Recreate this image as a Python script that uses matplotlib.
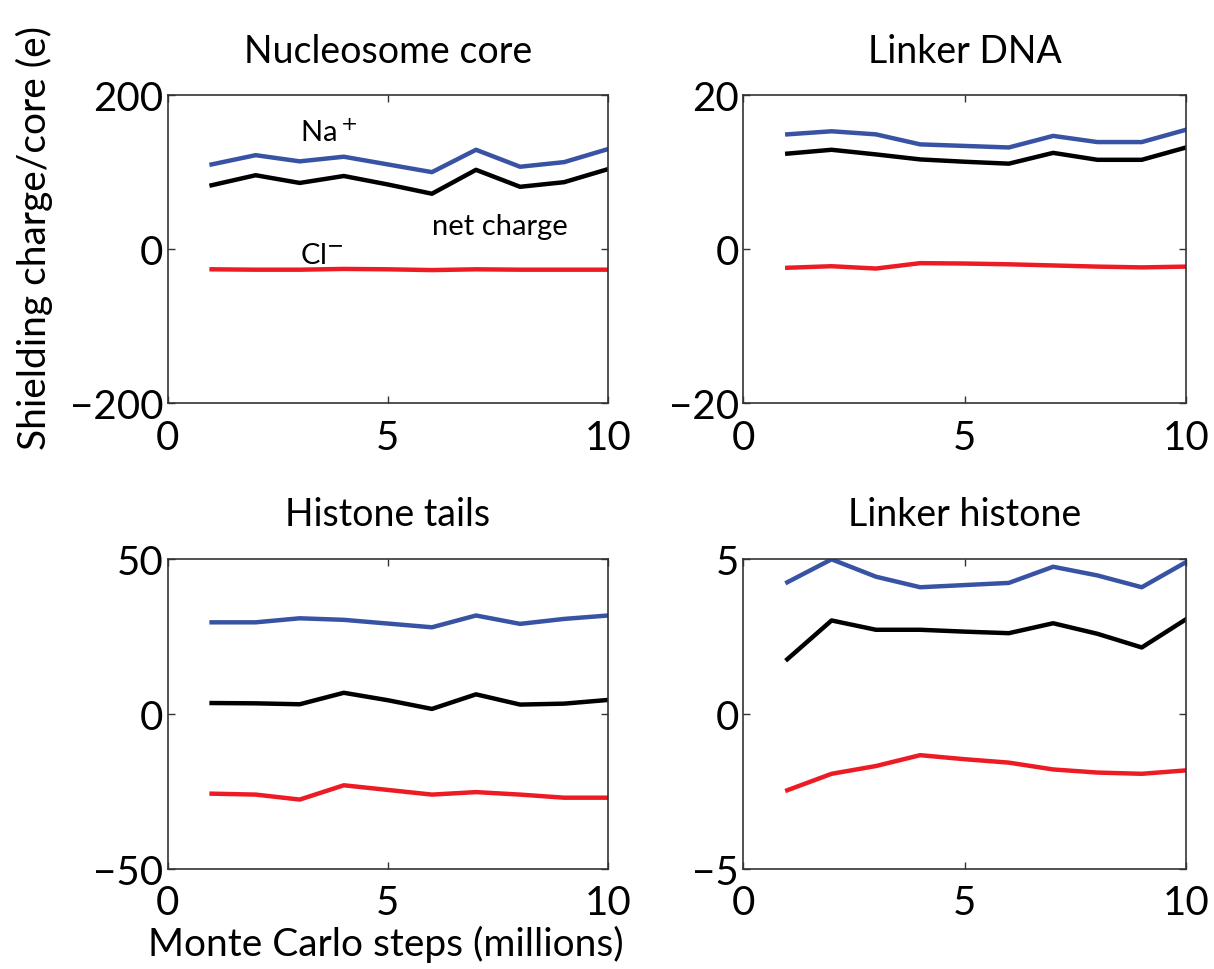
import matplotlib.pyplot as plt
import numpy as np

plt.rcParams['font.family'] = ['Lato', 'DejaVu Sans']

# ---------------- DATA ----------------
steps = [1, 2, 3, 4, 5, 6, 7, 8, 9, 10]

titles = ["Nucleosome core", "Linker DNA", "Histone tails", "Linker histone"]
limits = [200, 20, 50, 5]

na_core = [110, 122, 114, 120, 110, 100, 129, 107, 113, 130]
net_core = [83, 96, 86, 95, 84, 72, 103, 81, 87, 104]
cl_core = [-26, -26.5, -26.5, -25.5, -26, -27, -26, -26.5, -26.5, -26.5]

na_linker = [14.9, 15.3, 14.9, 13.6, 13.4, 13.2, 14.7, 13.9, 13.9, 15.5]
net_linker = [12.4, 12.9, 12.3, 11.65, 11.35, 11.1, 12.5, 11.6, 11.6, 13.2]
cl_linker = [-2.4, -2.2, -2.5, -1.8, -1.85, -1.95, -2.1, -2.25, -2.35, -2.25]

na_tails = [29.5, 29.5, 30.8, 30.3, 29.1, 27.9, 31.7, 29.0, 30.6, 31.7]
net_tails = [3.5, 3.4, 3.1, 6.8, 4.4, 1.6, 6.3, 3.0, 3.3, 4.5]
cl_tails = [-25.7, -26.0, -27.6, -23.0, -24.5, -26.0, -25.2, -26.0, -27.0, -27.0]

na_lh = [4.24, 4.98, 4.42, 4.08, 4.15, 4.22, 4.74, 4.46, 4.08, 4.89]
net_lh = [1.76, 3.01, 2.71, 2.71, 2.65, 2.60, 2.92, 2.58, 2.14, 3.05]
cl_lh = [-2.46, -1.93, -1.68, -1.33, -1.46, -1.57, -1.79, -1.89, -1.93, -1.82]

na_all = [na_core, na_linker, na_tails, na_lh]
net_all = [net_core, net_linker, net_tails, net_lh]
cl_all = [cl_core, cl_linker, cl_tails, cl_lh]

# ---------------- PLOT ----------------
fig = plt.figure(figsize=(12.14, 9.7), dpi=100)

# [left, bottom, width, height]
posicoes = [
    [0.138, 0.583, 0.363, 0.318],
    [0.612, 0.583, 0.365, 0.318],
    [0.138, 0.103, 0.363, 0.320],
    [0.612, 0.103, 0.365, 0.320],
]

azul = '#3953a4'
vermelho = '#ed1c24'

for i in range(4):
    ax = fig.add_axes(posicoes[i])
    ax.plot(steps, na_all[i], color=azul, lw=3.2)
    ax.plot(steps, net_all[i], color='black', lw=3.2)
    ax.plot(steps, cl_all[i], color=vermelho, lw=3.2)

    lim = limits[i]
    ax.set_xlim(0, 10)
    ax.set_ylim(-lim, lim)
    ax.set_xticks([0, 5, 10])
    ax.set_yticks([-lim, 0, lim])
    ax.set_yticklabels([f"\u2212{lim}", "0", f"{lim}"])
    ax.tick_params(direction='in', length=5, width=1, top=True, right=True,
                   labelsize=29, color='#333333')
    ax.tick_params(axis='x', pad=11)
    ax.tick_params(axis='y', pad=3)
    for s in ax.spines.values():
        s.set_color('#333333')
        s.set_linewidth(1.2)
    ax.set_title(titles[i], fontsize=27, pad=24)

    if i == 0:
        ax.text(3.0, 152, "Na$^+$", fontsize=21, va='center')
        ax.text(6.0, 30, "net charge", fontsize=21, va='center')
        ax.text(3.0, -8, "Cl$^{-}$", fontsize=21, va='center')

fig.text(0.028, 0.755, "Shielding charge/core (e)", rotation=90,
         fontsize=28, ha='center', va='center')
fig.text(0.318, 0.026, "Monte Carlo steps (millions)",
         fontsize=28, ha='center', va='center')

plt.savefig('out.png', dpi=100)
